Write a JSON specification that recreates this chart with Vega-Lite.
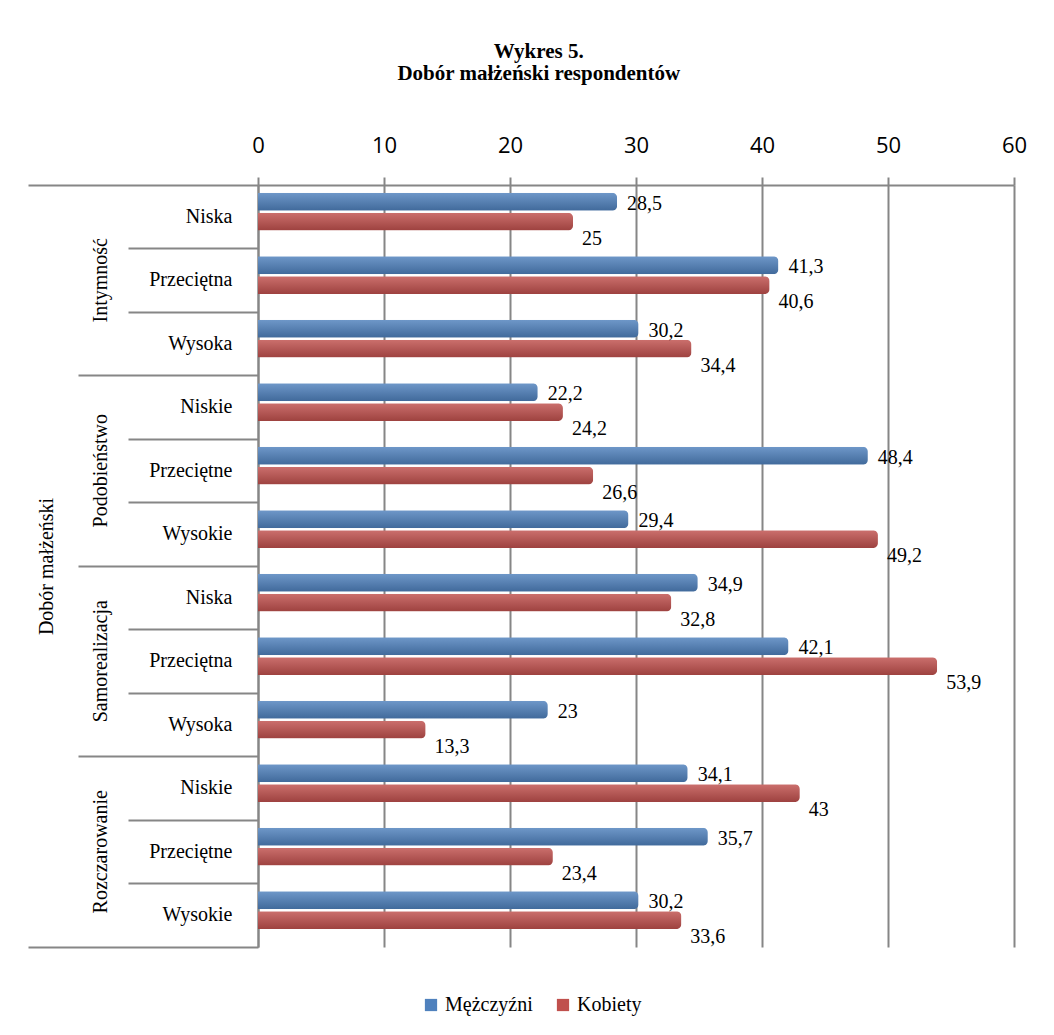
{
  "$schema": "https://vega.github.io/schema/vega-lite/v6.json",
  "width": 756,
  "height": 762,
  "autosize": {"type": "none"},
  "padding": {"left": 258, "top": 185, "right": 40, "bottom": 88},
  "background": "white",
  "title": {
    "text": ["Wykres 5.", "Dobór małżeński respondentów"],
    "font": "Liberation Serif",
    "fontSize": 21,
    "fontWeight": "bold",
    "color": "black",
    "anchor": "middle",
    "frame": "bounds",
    "offset": 50,
    "dx": 12,
    "lineHeight": 22
  },
  "data": {
    "values": [
      {"key": "Intymność|Niska", "series": "Mężczyźni", "value": 28.5},
      {"key": "Intymność|Niska", "series": "Kobiety", "value": 25},
      {"key": "Intymność|Przeciętna", "series": "Mężczyźni", "value": 41.3},
      {"key": "Intymność|Przeciętna", "series": "Kobiety", "value": 40.6},
      {"key": "Intymność|Wysoka", "series": "Mężczyźni", "value": 30.2},
      {"key": "Intymność|Wysoka", "series": "Kobiety", "value": 34.4},
      {"key": "Podobieństwo|Niskie", "series": "Mężczyźni", "value": 22.2},
      {"key": "Podobieństwo|Niskie", "series": "Kobiety", "value": 24.2},
      {"key": "Podobieństwo|Przeciętne", "series": "Mężczyźni", "value": 48.4},
      {"key": "Podobieństwo|Przeciętne", "series": "Kobiety", "value": 26.6},
      {"key": "Podobieństwo|Wysokie", "series": "Mężczyźni", "value": 29.4},
      {"key": "Podobieństwo|Wysokie", "series": "Kobiety", "value": 49.2},
      {"key": "Samorealizacja|Niska", "series": "Mężczyźni", "value": 34.9},
      {"key": "Samorealizacja|Niska", "series": "Kobiety", "value": 32.8},
      {"key": "Samorealizacja|Przeciętna", "series": "Mężczyźni", "value": 42.1},
      {"key": "Samorealizacja|Przeciętna", "series": "Kobiety", "value": 53.9},
      {"key": "Samorealizacja|Wysoka", "series": "Mężczyźni", "value": 23},
      {"key": "Samorealizacja|Wysoka", "series": "Kobiety", "value": 13.3},
      {"key": "Rozczarowanie|Niskie", "series": "Mężczyźni", "value": 34.1},
      {"key": "Rozczarowanie|Niskie", "series": "Kobiety", "value": 43},
      {"key": "Rozczarowanie|Przeciętne", "series": "Mężczyźni", "value": 35.7},
      {"key": "Rozczarowanie|Przeciętne", "series": "Kobiety", "value": 23.4},
      {"key": "Rozczarowanie|Wysokie", "series": "Mężczyźni", "value": 30.2},
      {"key": "Rozczarowanie|Wysokie", "series": "Kobiety", "value": 33.6}
    ]
  },
  "encoding": {
    "x": {
      "field": "value",
      "type": "quantitative",
      "scale": {"domain": [0, 60], "nice": false},
      "axis": {
        "orient": "top",
        "values": [0, 10, 20, 30, 40, 50, 60],
        "title": null,
        "labelFont": "Open Sans",
        "labelFontSize": 22,
        "labelColor": "black",
        "labelFlush": false,
        "tickColor": "#868686",
        "tickWidth": 2,
        "tickSize": 8,
        "labelPadding": 20,
        "domainColor": "#868686",
        "domainWidth": 2,
        "grid": true,
        "gridColor": "#868686",
        "gridWidth": 2
      }
    },
    "yOffset": {
      "field": "series",
      "type": "nominal",
      "sort": ["Mężczyźni", "Kobiety"],
      "scale": {"paddingInner": 0.1, "paddingOuter": 0.64, "align": 0.3}
    }
  },
  "layer": [
    {
      "mark": {"type": "bar", "cornerRadiusEnd": 5},
      "encoding": {
        "y": {
          "field": "key",
          "type": "nominal",
          "sort": null,
          "scale": {"paddingInner": 0, "paddingOuter": 0},
          "axis": {
            "orient": "left",
            "title": null,
            "labelExpr": "split(datum.value, '|')[1]",
            "labelFont": "Liberation Serif",
            "labelFontSize": 20,
            "labelColor": "black",
            "labelAlign": "right",
            "labelBaseline": "middle",
            "labelPadding": 26,
            "ticks": false,
            "domain": false,
            "grid": false
          }
        },
        "color": {
          "field": "series",
          "type": "nominal",
          "scale": {"domain": ["Mężczyźni", "Kobiety"], "range": ["#4F81BD", "#C0504D"]},
          "legend": {
            "orient": "none",
            "legendX": 163,
            "legendY": 810,
            "direction": "horizontal",
            "title": null,
            "symbolType": "square",
            "symbolSize": 150,
            "symbolStrokeWidth": 0,
            "labelFont": "Liberation Serif",
            "labelFontSize": 20,
            "labelColor": "black",
            "columnPadding": 20
          }
        }
      }
    },
    {
      "mark": {
        "type": "bar",
        "cornerRadiusEnd": 5,
        "fill": {
          "gradient": "linear",
          "x1": 0, "y1": 0, "x2": 0, "y2": 1,
          "stops": [
            {"offset": 0, "color": "#ffffff"},
            {"offset": 1, "color": "#000000"}
          ]
        },
        "fillOpacity": 0.18
      },
      "encoding": {
        "y": {
          "field": "key",
          "type": "nominal",
          "sort": null,
          "axis": {
            "orient": "left",
            "title": null,
            "labels": false,
            "bandPosition": 0,
            "tickColor": "#868686",
            "tickWidth": 2,
            "tickSize": {
              "condition": [
                {"test": "datum.value === 'Intymność|Niska'", "value": 230},
                {"test": "indexof(datum.value, '|Nisk') >= 0", "value": 180}
              ],
              "value": 130
            },
            "domainColor": "#868686",
            "domainWidth": 2,
            "grid": false
          }
        }
      }
    },
    {
      "transform": [{"filter": "datum.series === 'Mężczyźni'"}],
      "mark": {"type": "text", "align": "left", "baseline": "middle", "dx": 10, "dy": 2, "font": "Liberation Serif", "fontSize": 20, "color": "black"},
      "encoding": {
        "text": {"field": "value", "type": "quantitative", "format": "~g"},
        "y": {
          "field": "key",
          "type": "nominal",
          "sort": null,
          "axis": {
            "orient": "left",
            "title": "Dobór małżeński",
            "titleFont": "Liberation Serif",
            "titleFontSize": 20,
            "titleFontWeight": "normal",
            "titleColor": "black",
            "titlePadding": 34,
            "labelExpr": "indexof(datum.value, '|Przeci') >= 0 ? split(datum.value, '|')[0] : ''",
            "labelAngle": -90,
            "labelAlign": "center",
            "labelBaseline": "middle",
            "labelPadding": 158,
            "labelOverlap": false,
            "labelFont": "Liberation Serif",
            "labelFontSize": 20,
            "labelColor": "black",
            "ticks": false,
            "domain": false,
            "grid": false
          }
        }
      }
    },
    {
      "transform": [{"filter": "datum.series === 'Kobiety'"}],
      "mark": {"type": "text", "align": "left", "baseline": "middle", "dx": 9, "dy": 17, "font": "Liberation Serif", "fontSize": 20, "color": "black"},
      "encoding": {
        "text": {"field": "value", "type": "quantitative", "format": "~g"},
        "y": {
          "field": "key",
          "type": "nominal",
          "sort": null,
          "axis": {
            "orient": "left",
            "title": null,
            "labels": false,
            "domain": false,
            "grid": false,
            "bandPosition": 1,
            "tickSize": 230,
            "tickColor": "#868686",
            "tickWidth": 2,
            "tickOpacity": {
              "condition": {"test": "datum.value === 'Rozczarowanie|Wysokie'", "value": 1},
              "value": 0
            }
          }
        }
      }
    }
  ],
  "resolve": {"scale": {"y": "shared"}, "axis": {"y": "independent"}},
  "config": {
    "view": {"stroke": null},
    "locale": {
      "number": {"decimal": ",", "thousands": " ", "grouping": [3], "currency": ["", " zł"]}
    }
  }
}
